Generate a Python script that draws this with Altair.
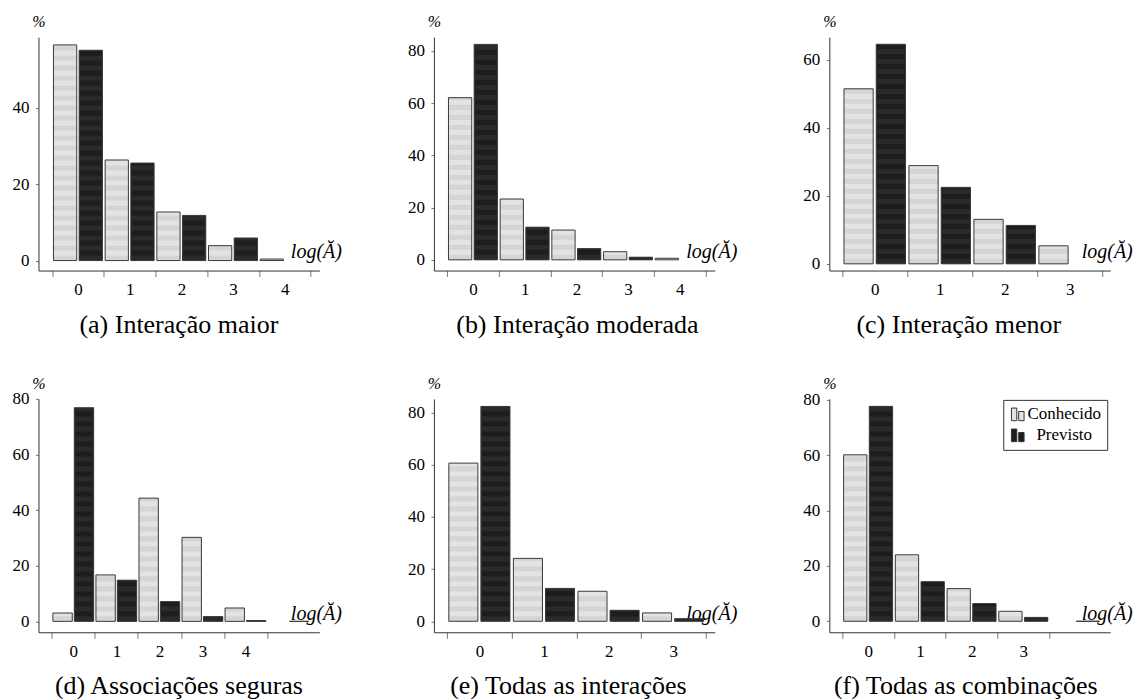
import altair as alt
import pandas as pd

SERIES = ["Conhecido", "Previsto"]
FILL_COLORS = ["#e3e3e3", "#1d1d1d"]
STRIPE_COLORS = ["#d5d5d5", "#2a2a2a"]

captions = [
    "(a) Interação maior", "(b) Interação moderada", "(c) Interação menor",
    "(d) Associações seguras", "(e) Todas as interações", "(f) Todas as combinações",
]

# values (%), per log(Ă) class
a_conhecido = [56.4, 26.3, 12.7, 3.9, 0.4]
a_previsto = [55.0, 25.5, 11.8, 5.9]
b_conhecido = [62.1, 23.3, 11.4, 3.1, 0.6]
b_previsto = [82.5, 12.5, 4.3, 1.0]
c_conhecido = [51.5, 28.9, 13.1, 5.3]
c_previsto = [64.6, 22.5, 11.3]
d_conhecido = [3.0, 16.7, 44.3, 30.2, 4.8]
d_previsto = [76.8, 14.8, 7.1, 1.7, 0.3, 0.0]
e_conhecido = [60.6, 24.1, 11.5, 3.2]
e_previsto = [82.3, 12.6, 4.2, 1.0]
f_conhecido = [60.1, 24.0, 11.8, 3.6]
f_previsto = [77.6, 14.3, 6.4, 1.4, 0.0]

x_labels = [[0, 1, 2, 3, 4], [0, 1, 2, 3, 4], [0, 1, 2, 3],
            [0, 1, 2, 3, 4], [0, 1, 2, 3], [0, 1, 2, 3]]
y_ticks = [[0, 20, 40], [0, 20, 40, 60, 80], [0, 20, 40, 60],
           [0, 20, 40, 60, 80], [0, 20, 40, 60, 80], [0, 20, 40, 60, 80]]
x_domains = [[-0.765, 4.67], [-0.757, 4.678], [-0.70, 3.623],
             [-0.81, 5.716], [-0.706, 3.644], [-0.751, 4.679]]
y_domains = [[-2.61, 58.43], [-4.1, 85.28], [-1.97, 66.7],
             [-3.93, 80.0], [-4.21, 85.2], [-3.97, 80.3]]
caption_dx = [0, 3, -11, 0, -6, -4]

W = 281
H = 233.5
FONT = "Liberation Serif"


def panel(idx, conh, prev, legend=False):
    rows = [{"g": i, "serie": "Conhecido", "v": v} for i, v in enumerate(conh)]
    rows += [{"g": i, "serie": "Previsto", "v": v} for i, v in enumerate(prev)]
    df = pd.DataFrame(rows)
    xd, yd = x_domains[idx], y_domains[idx]
    labels = x_labels[idx]
    gw = W / (xd[1] - xd[0])
    period = 10 * (yd[1] - yd[0]) / H

    xscale = alt.Scale(domain=xd, nice=False, zero=False)
    yscale = alt.Scale(domain=yd, nice=False, zero=False)
    tick_vals = [l - 0.5 for l in labels] + [labels[-1] + 0.5]
    xaxis = alt.Axis(
        values=tick_vals,
        labelExpr=f"datum.value < {labels[-1] + 0.25} ? format(datum.value + 0.5, 'd') : ''",
        labelOffset=gw / 2, tickSize=6, labelPadding=5, labelFlush=False,
        labelOverlap=False, grid=False,
        title="log(Ă)", titleX=252, titleY=-13, titleAngle=0, titleAlign="left",
        titleBaseline="alphabetic", titleFontStyle="italic", titleFontWeight="normal",
        titleFont=FONT, titleFontSize=20, titleColor="black",
    )
    yaxis = alt.Axis(
        values=y_ticks[idx], tickSize=3, labelPadding=6.5, grid=False,
        title="%", titleAngle=0, titleX=0, titleY=-10.5, titleAlign="center",
        titleBaseline="alphabetic", titleFontStyle="italic", titleFontWeight="normal",
        titleFont=FONT, titleFontSize=16, titleColor="black",
    )

    base = alt.Chart(df).transform_calculate(
        x0="datum.g + (datum.serie == 'Conhecido' ? -0.475 : 0.022)",
        x1="datum.x0 + 0.45",
        z="0",
    )
    if legend:
        leg = alt.Legend(
            title=None, orient="none", legendX=174, legendY=1, direction="vertical",
            symbolType="M-1,-1H-0.15V1H-1Z M0.15,-0.45H1V1H0.15Z", symbolSize=160,
            symbolStrokeColor="#333", symbolStrokeWidth=1,
            labelFont=FONT, labelFontSize=17, labelColor="black",
            labelAlign="center", labelOffset=38,
            strokeColor="#333", fillColor="white", padding=6, rowPadding=3,
            cornerRadius=0,
        )
        fill = alt.Fill("serie:N", scale=alt.Scale(domain=SERIES, range=FILL_COLORS), legend=leg)
    else:
        fill = alt.Fill("serie:N", scale=alt.Scale(domain=SERIES, range=FILL_COLORS), legend=None)

    bars = base.mark_rect().encode(
        x=alt.X("x0:Q", scale=xscale, axis=xaxis),
        x2="x1:Q",
        y=alt.Y("v:Q", scale=yscale, axis=yaxis),
        y2="z:Q",
        fill=fill,
    )
    stripes = base.transform_calculate(
        s=f"sequence(0, datum.v, {period})"
    ).transform_flatten(["s"]).transform_calculate(
        s2=f"min(datum.s + {period / 2}, datum.v)",
    ).transform_filter("datum.s2 > datum.s").mark_rect().encode(
        x=alt.X("x0:Q", scale=xscale, axis=xaxis),
        x2="x1:Q",
        y=alt.Y("s:Q", scale=yscale, axis=yaxis),
        y2="s2:Q",
        fill=alt.condition("datum.serie == 'Conhecido'",
                           alt.value(STRIPE_COLORS[0]), alt.value(STRIPE_COLORS[1])),
    )
    outline = base.mark_rect(fillOpacity=0, stroke="#3a3a3a", strokeWidth=1).encode(
        x=alt.X("x0:Q", scale=xscale, axis=xaxis),
        x2="x1:Q",
        y=alt.Y("v:Q", scale=yscale, axis=yaxis),
        y2="z:Q",
    )
    return alt.layer(bars, stripes, outline).properties(
        width=W, height=H,
        title=alt.TitleParams(
            captions[idx], orient="bottom", anchor="middle", font=FONT, fontSize=26,
            fontWeight="normal", color="black", offset=14, dx=caption_dx[idx],
        ),
    )


panels = [
    panel(0, a_conhecido, a_previsto),
    panel(1, b_conhecido, b_previsto),
    panel(2, c_conhecido, c_previsto),
    panel(3, d_conhecido, d_previsto),
    panel(4, e_conhecido, e_previsto),
    panel(5, f_conhecido, f_previsto, legend=True),
]

chart = alt.concat(
    *panels, columns=3, spacing={"row": 127.9, "column": 114.6}, bounds="flush"
).resolve_scale(color="independent", fill="independent").resolve_legend(
    fill="independent"
).properties(
    padding={"left": 11.5, "top": 13, "right": 0, "bottom": 0}
).configure_view(stroke=None).configure_axis(
    domainColor="#333", tickColor="#777", labelFont=FONT, labelFontSize=17,
    labelColor="black", grid=False,
).configure_text(font=FONT).configure_title(font=FONT).configure_legend(
    labelFont=FONT
)

chart.save("out.html", embed_options={"renderer": "svg", "actions": False})
